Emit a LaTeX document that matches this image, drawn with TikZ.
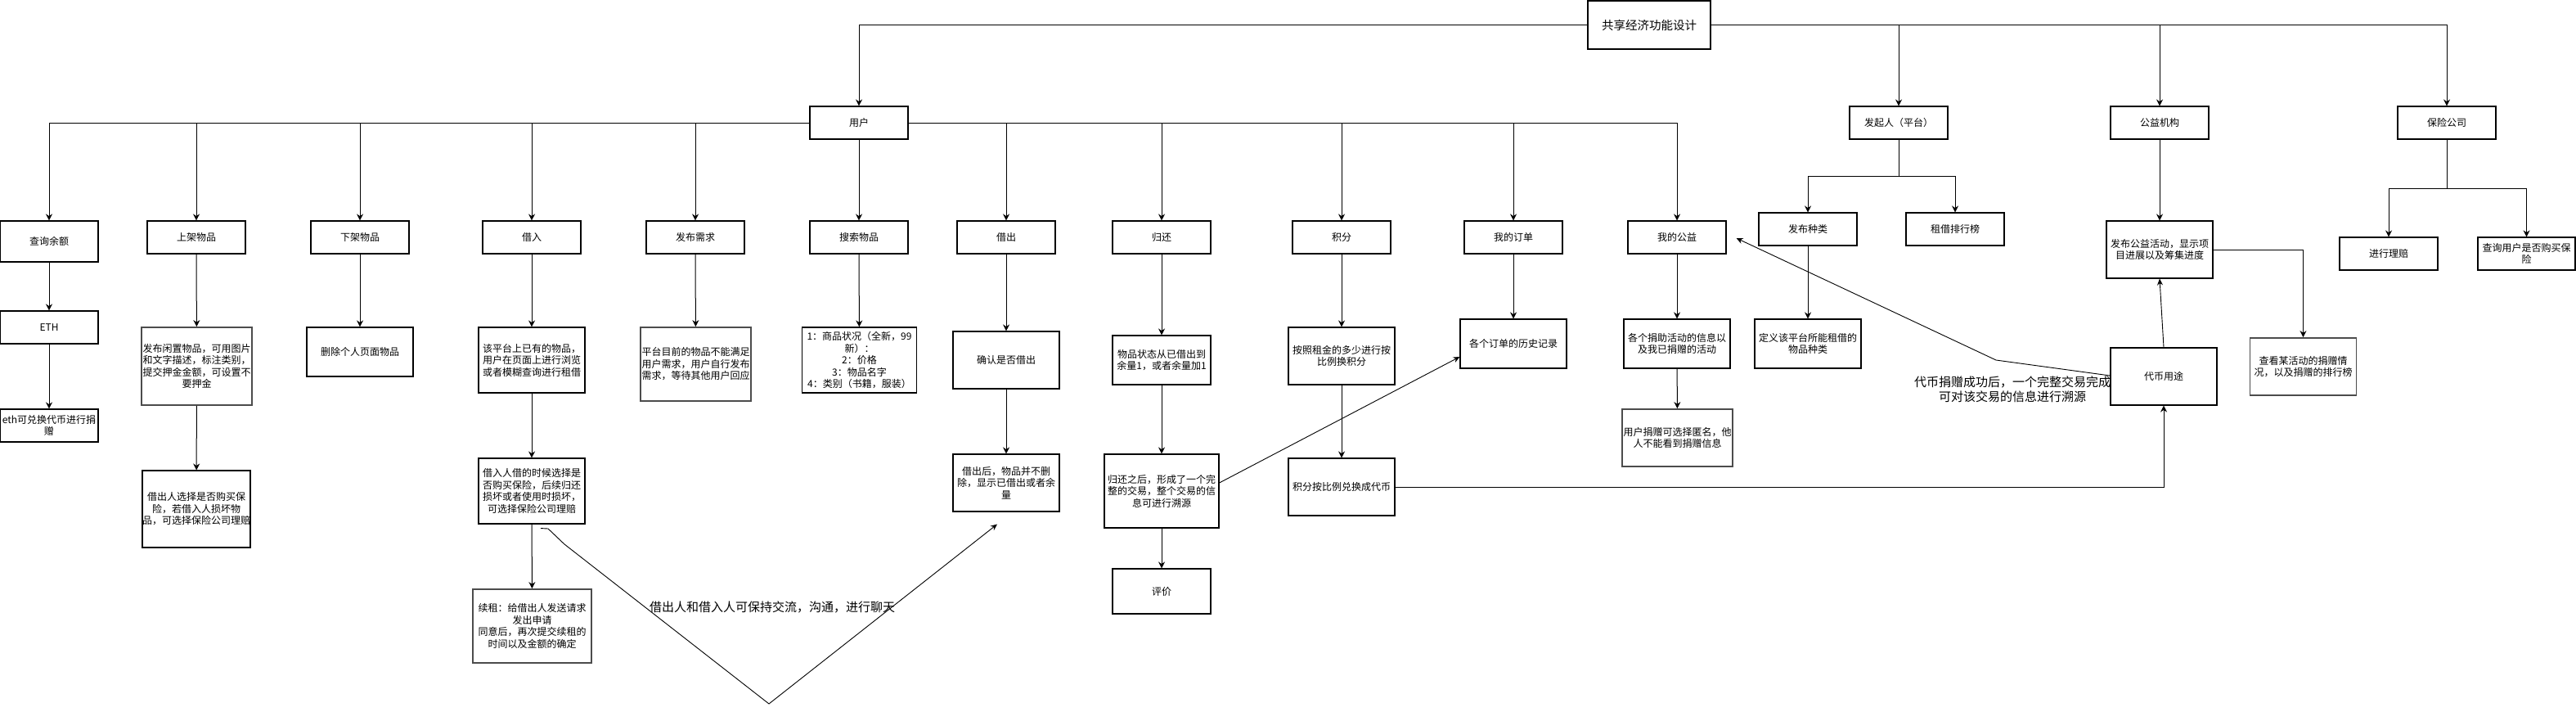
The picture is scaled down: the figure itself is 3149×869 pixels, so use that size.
\documentclass[tikz,border=0pt]{standalone}
\usepackage{fontspec}
\setmainfont{Noto Sans CJK SC}
\usetikzlibrary{arrows.meta,calc}
\newcommand{\boxfont}{\fontsize{6}{7.25}\selectfont}
\newcommand{\labfont}{\fontsize{7.5}{9}\selectfont}
\newcommand{\titfont}{\fontsize{7.25}{8.5}\selectfont}
\tikzset{
 bx/.style={draw=black, line width=0.55pt, fill=white, inner sep=0pt, align=center, font=\boxfont},
 gbx/.style={bx, draw=black!70, line width=0.9pt},
 sz/.style 2 args={minimum width=#1*0.5pt, minimum height=#2*0.5pt},
 arr/.style={-{Stealth[length=4pt,width=4pt]}, line width=0.5pt},
 thin arr/.style={-{Stealth[length=4pt,width=3.5pt]}, line width=0.45pt},
 lab/.style={align=center, font=\labfont, inner sep=0pt},
}
\begin{document}
\begin{tikzpicture}[x=0.5pt,y=-0.5pt]
\useasboundingbox[fill=white] (0,0) rectangle (3149,869);

% level 0/1
\node[bx,sz={150}{59},font=\titfont] (title) at (2016,30.5) {共享经济功能设计};
\node[bx,sz={120}{40}] (user) at (1050,150) {用户};
\node[bx,sz={120}{40}] (faqi) at (2321,150) {发起人（平台）};
\node[bx,sz={120}{40}] (gongyi) at (2640,150) {公益机构};
\node[bx,sz={120}{40}] (baoxian) at (2991,150) {保险公司};

% user children
\node[bx,sz={120}{50}] (cxye) at (60,295) {查询余额};
\node[bx,sz={120}{40}] (sjwp) at (240,290) {上架物品};
\node[bx,sz={120}{40}] (xjwp) at (440,290) {下架物品};
\node[bx,sz={120}{40}] (jr) at (650,290) {借入};
\node[bx,sz={120}{40}] (fbxq) at (850,290) {发布需求};
\node[bx,sz={120}{40}] (sswp) at (1050,290) {搜索物品};
\node[bx,sz={120}{40}] (jc) at (1230,290) {借出};
\node[bx,sz={120}{40}] (gh) at (1420,290) {归还};
\node[bx,sz={120}{40}] (jf) at (1640,290) {积分};
\node[bx,sz={120}{40}] (wddd) at (1850,290) {我的订单};
\node[bx,sz={120}{40}] (wdgy) at (2050,290) {我的公益};

% deeper
\node[bx,sz={120}{40}] (eth) at (60,400) {ETH};
\node[bx,sz={120}{40}] (ethdh) at (60,520) {eth可兑换代币进行捐\\赠};
\node[gbx,sz={135}{95}] (fbxz) at (240.5,447.5) {发布闲置物品，可用图片\\和文字描述，标注类别，\\提交押金金额，可设置不\\要押金};
\node[bx,sz={132}{94}] (jcrxz) at (240,622) {借出人选择是否购买保\\险，若借入人损坏物\\品，可选择保险公司理赔};
\node[bx,sz={130}{60}] (scgr) at (440,430) {删除个人页面物品};
\node[bx,sz={130}{80}] (gptpt) at (650,440) {该平台上已有的物品，\\用户在页面上进行浏览\\或者模糊查询进行租借};
\node[bx,sz={130}{80}] (jrrjd) at (650,600) {借入人借的时候选择是\\否购买保险，后续归还\\损坏或者使用时损坏，\\可选择保险公司理赔};
\node[gbx,sz={145}{90}] (xz) at (650.5,765) {续租：给借出人发送请求\\发出申请\\同意后，再次提交续租的\\时间以及金额的确定};
\node[gbx,sz={135}{90}] (ptmq) at (850.5,445) {平台目前的物品不能满足\\用户需求，用户自行发布\\需求，等待其他用户回应};
\node[bx,sz={140}{80}] (sslist) at (1050.5,440) {1：商品状况（全新，99\\新）：\\2：价格\\3：物品名字\\4：类别（书籍，服装）};
\node[bx,sz={130}{70}] (qrjc) at (1230,440) {确认是否借出};
\node[bx,sz={130}{70}] (jch) at (1230,590) {借出后，物品并不删\\除，显示已借出或者余\\量};
\node[bx,sz={120}{60}] (wpzt) at (1420,440) {物品状态从已借出到\\余量1，或者余量加1};
\node[bx,sz={140}{90}] (ghzh) at (1420,600) {归还之后，形成了一个完\\整的交易，整个交易的信\\息可进行溯源};
\node[bx,sz={120}{55}] (pj) at (1420,722.5) {评价};
\node[bx,sz={130}{70}] (azzj) at (1640,435) {按照租金的多少进行按\\比例换积分};
\node[bx,sz={130}{70}] (jfdh) at (1640,595) {积分按比例兑换成代币};
\node[bx,sz={130}{60}] (gddd) at (1850,420) {各个订单的历史记录};
\node[bx,sz={130}{60}] (gjz) at (2050,420) {各个捐助活动的信息以\\及我已捐赠的活动};
\node[gbx,sz={135}{70}] (yhjz) at (2050.5,535) {用户捐赠可选择匿名，他\\人不能看到捐赠信息};

% platform
\node[bx,sz={120}{40}] (fbzl) at (2210,280) {发布种类};
\node[bx,sz={120}{40}] (zjph) at (2390,280) {租借排行榜};
\node[bx,sz={130}{60}] (dy) at (2210,420) {定义该平台所能租借的\\物品种类};

% charity
\node[bx,sz={130}{70}] (fbgy) at (2640,305) {发布公益活动，显示项\\目进展以及筹集进度};
\node[gbx,sz={130}{70}] (ck) at (2815.5,448) {查看某活动的捐赠情\\况，以及捐赠的排行榜};
\node[bx,sz={130}{70}] (dbyt) at (2645,460) {代币用途};

% insurance
\node[bx,sz={120}{40}] (jxlp) at (2920,310) {进行理赔};
\node[bx,sz={119}{40}] (cxbx) at (3088.5,310) {查询用户是否购买保\\险};

% top edges
\draw[arr] (title.west) -| (user.north);
\draw[arr] (title.east) -| (faqi.north);
\draw[arr] (title.east) -| (gongyi.north);
\draw[arr] (title.east) -| (baoxian.north);

% user edges
\foreach \t in {cxye,sjwp,xjwp,jr,fbxq} \draw[arr] (user.west) -| (\t.north);
\foreach \t in {jc,gh,jf,wddd,wdgy} \draw[arr] (user.east) -| (\t.north);
\draw[arr] (user.south) -- (sswp.north);

\draw[arr] (cxye) -- (eth);
\draw[arr] (eth) -- (ethdh);
\draw[arr] (sjwp) -- (fbxz);
\draw[arr] (fbxz) -- (jcrxz);
\draw[arr] (xjwp) -- (scgr);
\draw[arr] (jr) -- (gptpt);
\draw[arr] (gptpt) -- (jrrjd);
\draw[arr] (jrrjd) -- (xz);
\draw[arr] (fbxq) -- (ptmq);
\draw[arr] (sswp) -- (sslist);
\draw[arr] (jc) -- (qrjc);
\draw[arr] (qrjc) -- (jch);
\draw[arr] (gh) -- (wpzt);
\draw[arr] (wpzt) -- (ghzh);
\draw[arr] (ghzh) -- (pj);
\draw[arr] (jf) -- (azzj);
\draw[arr] (azzj) -- (jfdh);
\draw[arr] (jfdh.east) -| (dbyt.south);
\draw[arr] (wddd) -- (gddd);
\draw[arr] (wdgy) -- (gjz);
\draw[arr] (gjz) -- (yhjz);

% platform edges
\coordinate (fq) at (2321,215);
\draw[arr] (faqi.south) -- (fq) -| (fbzl.north);
\draw[arr] (fq) -| (zjph.north);
\draw[arr] (fbzl) -- (dy);

% charity edges
\draw[arr] (gongyi) -- (fbgy);
\draw[arr] (fbgy.east) -| (ck.north);
\draw[thin arr] (dbyt.north) -- (fbgy.south);
\coordinate (bend) at (2440,440);
\draw[thin arr] ($(dbyt.west)+(0,-1)$) -- (bend) -- ($(wdgy.east)+(12,1)$);
\node[lab] (lab1) at (2460,476) {代币捐赠成功后，一个完整交易完成\\可对该交易的信息进行溯源};

% insurance edges
\coordinate (bq) at (2991,230);
\draw[arr] (baoxian.south) -- (bq) -| (jxlp.north);
\draw[arr] (bq) -| (cxbx.north);

% diagonal
\draw[thin arr] ($(ghzh.east)+(0,-10)$) -- ($(gddd.west)+(0,16)$);

% V connector
\coordinate (v1) at (670,646);
\coordinate (v2) at (690,665);
\coordinate (v3) at (940,860);
\draw[thin arr] ($(jrrjd.south)+(11,5)$) -- (v1) -- (v2) -- (v3) -- ($(jch.south)+(-11,15)$);
\node[lab] (lab2) at (944,742) {借出人和借入人可保持交流，沟通，进行聊天};
\end{tikzpicture}
\end{document}
